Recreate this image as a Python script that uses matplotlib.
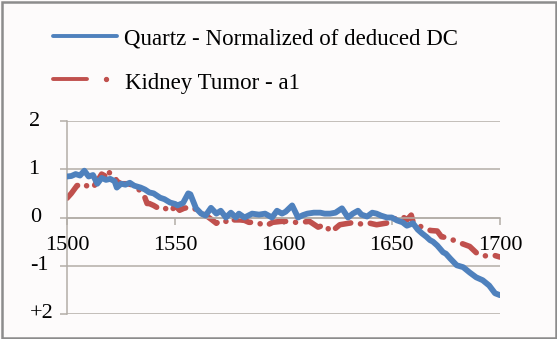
import matplotlib
matplotlib.use("Agg")
import matplotlib.pyplot as plt
from matplotlib.patches import Rectangle

# ── data ──
quartz_x = [1500, 1502, 1504, 1506, 1508, 1510, 1512, 1514, 1516, 1518, 1520, 1522, 1523,
            1525, 1527, 1529, 1531, 1534, 1536, 1538, 1540, 1543, 1545, 1547.6, 1550, 1551,
            1553.6, 1556, 1557, 1559.6, 1562, 1564, 1566.5, 1569, 1571, 1573.4, 1575.7, 1578,
            1579.4, 1582, 1585.5, 1588.7, 1591.5, 1594.7, 1597, 1599.3, 1601, 1604, 1606.7,
            1609, 1611, 1614, 1617, 1619, 1621.5, 1624, 1627, 1629.8, 1632, 1634.4, 1636,
            1638.6, 1641, 1643, 1645, 1647.8, 1650, 1652.4, 1655, 1657, 1659.8, 1662, 1664,
            1666, 1667.7, 1669, 1671, 1673.7, 1675, 1677, 1680, 1683, 1686, 1689, 1692, 1695,
            1697.7, 1700]
quartz_y = [0.85, 0.86, 0.90, 0.87, 0.97, 0.85, 0.88, 0.70, 0.82, 0.78, 0.80, 0.75, 0.62,
            0.70, 0.68, 0.72, 0.66, 0.62, 0.58, 0.52, 0.50, 0.41, 0.38, 0.31, 0.28, 0.25,
            0.30, 0.50, 0.48, 0.19, 0.08, 0.04, 0.20, 0.08, 0.14, 0.00, 0.10, 0.00,
            0.08, 0.00, 0.08, 0.06, 0.08, 0.00, 0.14, 0.08, 0.12, 0.25, 0.00,
            0.05, 0.08, 0.10, 0.10, 0.08, 0.08, 0.10, 0.19, 0.00, 0.08, 0.14, 0.06,
            0.02, 0.10, 0.08, 0.04, 0.00, 0.00, -0.06, -0.10, -0.17, -0.12, -0.25, -0.33,
            -0.40, -0.47, -0.50, -0.58, -0.72, -0.75, -0.85, -0.99, -1.03, -1.14, -1.24, -1.30, -1.41,
            -1.57, -1.61]

kidney_x = [1500, 1502, 1504.6, 1508, 1510, 1512, 1514, 1516, 1518, 1519, 1520, 1522, 1523,
            1525, 1529, 1531, 1534, 1536, 1537, 1538, 1540, 1543, 1545, 1548, 1550, 1552,
            1554, 1556, 1558, 1560, 1562, 1564, 1567, 1569, 1571, 1573.4, 1575, 1577, 1580,
            1582, 1584, 1588, 1590, 1592, 1595, 1599, 1603, 1605, 1608, 1612, 1616, 1619,
            1622, 1626, 1630, 1633, 1637, 1640, 1643, 1647, 1650, 1652, 1655, 1657, 1659,
            1660, 1664, 1668, 1671, 1673, 1676, 1680, 1686, 1690, 1694, 1697, 1700]
kidney_y = [0.40, 0.50, 0.66, 0.70, 0.62, 0.62, 0.75, 0.90, 0.85, 0.97, 0.90, 0.85, 0.75,
            0.70, 0.70, 0.62, 0.56, 0.41, 0.29, 0.29, 0.25, 0.17, 0.20, 0.12, 0.25, 0.15,
            0.19, 0.21, 0.21, 0.15, 0.08, 0.05, -0.05, -0.12, -0.05, -0.08, -0.12, -0.05, -0.05,
            -0.06, -0.10, -0.10, -0.15, -0.17, -0.10, -0.08, -0.08, -0.10, -0.10, -0.08, -0.20, -0.15,
            -0.30, -0.15, -0.12, -0.10, -0.15, -0.12, -0.15, -0.12, -0.10, 0.00, 0.02, -0.05, 0.05,
            -0.12, -0.20, -0.27, -0.28, -0.40, -0.42, -0.50, -0.60, -0.77, -0.80, -0.78, -0.82]

x_ticks = [1500, 1550, 1600, 1650, 1700]
y_ticks = [2, 1, 0, -1, -2]
y_labels = ["2", "1", "0", "-1", "+2"]

BLUE = "#4F81BD"
RED = "#C0504D"
GRID = "#B3ADA7"
SERIF = ["Liberation Serif", "DejaVu Serif"]

fig = plt.figure(figsize=(5.57, 3.39), dpi=100)
fig.patch.set_facecolor("#FDFBFB")

# background layer in pixel coords: frame + legend
bg = fig.add_axes([0, 0, 1, 1], zorder=0)
bg.set_xlim(0, 557)
bg.set_ylim(339, 0)
bg.axis("off")
bg.add_patch(Rectangle((1.5, 1.5), 554, 336, fill=False, edgecolor="#8C8C8C", linewidth=1.8))

bg.plot([53, 117], [36, 36], color=BLUE, lw=2.8, solid_capstyle="round")
bg.text(124, 45, "Quartz - Normalized of deduced DC", fontsize=16.5, family=SERIF,
        va="baseline", ha="left", color="black")
bg.plot([53, 87], [79, 79], color=RED, lw=2.8, solid_capstyle="round")
bg.plot([106], [79], "o", color=RED, markersize=2.8)
bg.text(125, 89, "Kidney Tumor - a1", fontsize=16.5, family=SERIF,
        va="baseline", ha="left", color="black")

# main plot
ax = fig.add_axes([67 / 557, 1 - 314 / 339, 433 / 557, 193 / 339], zorder=1)
ax.patch.set_alpha(0)
ax.set_xlim(1500, 1700)
ax.set_ylim(-2, 2)

for s in ["top", "right"]:
    ax.spines[s].set_visible(False)
ax.spines["bottom"].set_position(("data", 0))
ax.spines["bottom"].set_color(GRID)
ax.spines["left"].set_color(GRID)
ax.spines["bottom"].set_linewidth(1.1)
ax.spines["left"].set_linewidth(1.1)

ax.set_yticks(y_ticks)
ax.set_xticks(x_ticks)
ax.tick_params(axis="both", direction="out", length=5, width=1.1, color=GRID,
               labelleft=False, labelbottom=False)
ax.set_axisbelow(True)
ax.yaxis.grid(True, color=GRID, linewidth=1.1)

ax.plot(quartz_x, quartz_y, color=BLUE, lw=4.2, solid_joinstyle="round",
        solid_capstyle="round", zorder=3)
ax.plot(kidney_x, kidney_y, color=RED, lw=4.0, dashes=[3, 1.8, 0.01, 1.8],
        dash_capstyle="round", dash_joinstyle="round", zorder=2)

# tick labels as text (drawn above the lines, as in the reference)
for xv in x_ticks:
    ax.text(xv, -0.68, str(xv), fontsize=16, family=SERIF, ha="center", va="baseline",
            zorder=5)
label_x = [-0.075, -0.078, -0.072, -0.063, -0.058]
for lx, yv, lab in zip(label_x, y_ticks, y_labels):
    ax.text(lx, yv, lab, fontsize=16, family=SERIF, ha="center", va="center",
            transform=ax.get_yaxis_transform(), zorder=5)

fig.savefig("out.png", dpi=100, facecolor=fig.get_facecolor())
